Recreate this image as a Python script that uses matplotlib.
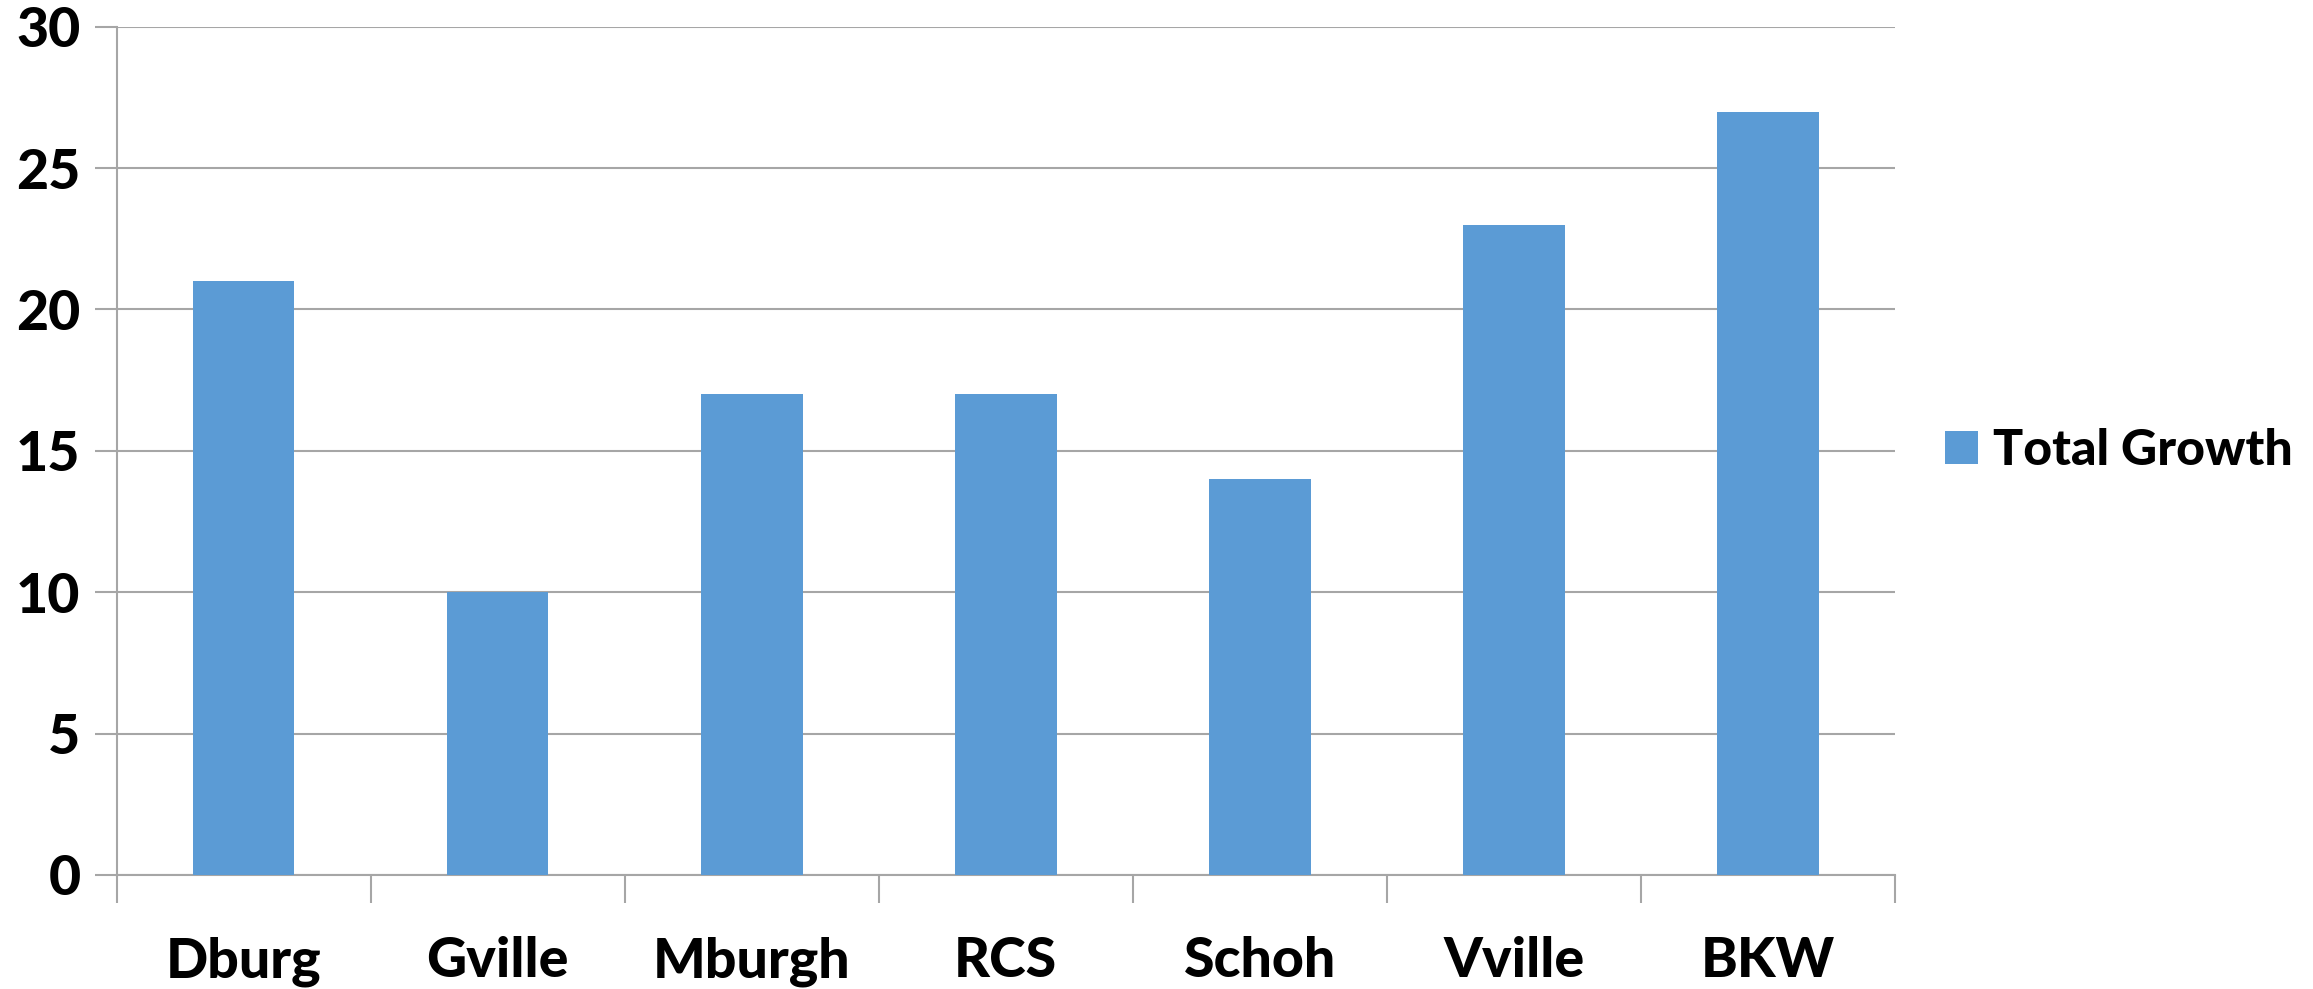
import matplotlib
matplotlib.use("Agg")
import matplotlib.pyplot as plt
import numpy as np

# data
schools = ["Dburg", "Gville", "Mburgh", "RCS", "Schoh", "Vville", "BKW"]
total_growth = [21, 10, 17, 17, 14, 23, 27]
y_ticks = [0, 5, 10, 15, 20, 25, 30]

bar_color = "#5B9BD5"
grid_color = "#A6A6A6"

plt.rcParams['font.family'] = ['Lato', 'DejaVu Sans']

fig = plt.figure(figsize=(23.13, 9.89), dpi=100)
ax = fig.add_axes([0.0504, 0.1153, 0.7689, 0.8577])

x = np.arange(len(schools))
ax.bar(x, total_growth, width=0.4, color=bar_color, label="Total Growth", zorder=3)

ax.set_xlim(-0.5, len(schools) - 0.5)
ax.set_ylim(0, 30)
ax.set_yticks(y_ticks)
ax.yaxis.grid(True, color=grid_color, linewidth=1.5, zorder=0)

ax.set_xticks(x)
ax.set_xticklabels(schools, fontsize=40, fontweight='black')
ax.set_xticks(np.arange(-0.5, len(schools)), minor=True)
ax.tick_params(axis='x', which='major', length=0, pad=44)
ax.tick_params(axis='x', which='minor', length=20, width=1.5, color=grid_color)
ax.tick_params(axis='y', length=16, width=1.5, color=grid_color, pad=10,
               labelsize=40)
for lbl in ax.get_yticklabels():
    lbl.set_fontweight('black')

for side in ["top", "right"]:
    ax.spines[side].set_visible(False)
for side in ["left", "bottom"]:
    ax.spines[side].set_color(grid_color)
    ax.spines[side].set_linewidth(1.5)

ax.legend(loc='center left', bbox_to_anchor=(1.003, 0.5), frameon=False,
          prop={'size': 36, 'weight': 'black'}, handlelength=0.65,
          handleheight=0.65, handletextpad=0.3)

fig.savefig("out.png", dpi=100)
